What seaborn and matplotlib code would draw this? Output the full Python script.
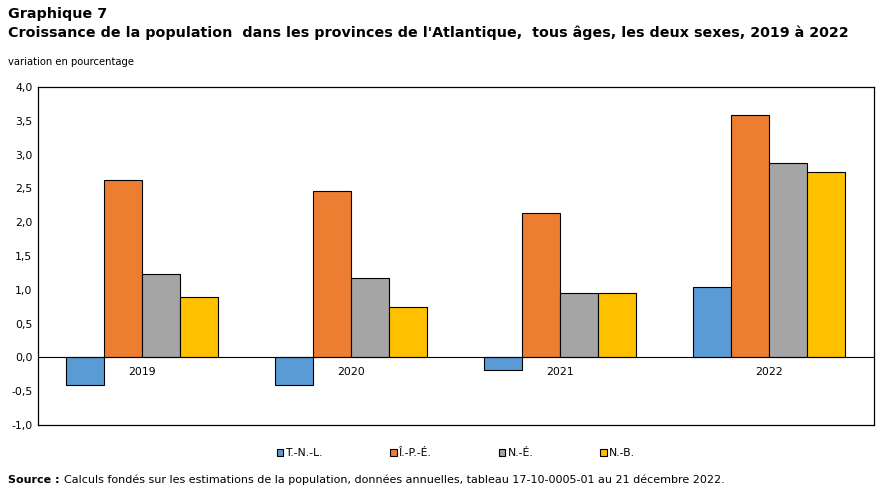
import matplotlib
matplotlib.use("Agg")
import matplotlib.pyplot as plt
import pandas as pd
import seaborn as sns

years = ["2019", "2020", "2021", "2022"]
provinces = ["T.-N.-L.", "Î.-P.-É.", "N.-É.", "N.-B."]
tnl = [-0.41, -0.40, -0.18, 1.05]
ipe = [2.62, 2.47, 2.13, 3.59]
ne = [1.23, 1.18, 0.96, 2.88]
nb = [0.89, 0.75, 0.95, 2.74]
yticks = [-1.0, -0.5, 0.0, 0.5, 1.0, 1.5, 2.0, 2.5, 3.0, 3.5, 4.0]
colors = ["#5B9BD5", "#ED7D31", "#A5A5A5", "#FFC000"]

rows = []
for prov, vals in zip(provinces, [tnl, ipe, ne, nb]):
    for yr, v in zip(years, vals):
        rows.append({"annee": yr, "province": prov, "valeur": v})
df = pd.DataFrame(rows)

sns.set_style("white")
plt.rcParams["font.family"] = ["DejaVu Sans"]
plt.rcParams["text.color"] = "black"
plt.rcParams["ytick.color"] = "black"

fig = plt.figure(figsize=(8.89, 4.92), dpi=100)
ax = fig.add_axes([0.0427, 0.136, 0.9403, 0.687])

sns.barplot(data=df, x="annee", y="valeur", hue="province", order=years,
            hue_order=provinces, palette=colors, width=0.727, gap=0,
            edgecolor="black", linewidth=0.8, saturation=1, ax=ax)

ax.set_ylim(-1.0, 4.0)
ax.set_xlim(-0.5, 3.5)
ax.set_yticks(yticks)
ax.set_yticklabels([f"{t:.1f}".replace(".", ",") for t in yticks], fontsize=7.8)
ax.tick_params(axis="y", length=0, pad=4, colors="black")
ax.set_xticks([])
ax.set_xlabel("")
ax.set_ylabel("")
ax.axhline(0, color="black", linewidth=0.8)
for s in ax.spines.values():
    s.set_color("black")
    s.set_linewidth(0.9)

for i, yr in enumerate(years):
    ax.annotate(yr, xy=(i, 0), xytext=(0, -7), textcoords="offset points",
                ha="center", va="top", fontsize=7.8)

handles, labels = ax.get_legend_handles_labels()
ax.legend(handles, labels, loc="center", bbox_to_anchor=(0.5, -0.083),
          ncol=4, frameon=False, fontsize=7.8, handlelength=0.6,
          handleheight=0.6, handletextpad=0.2, columnspacing=6.2)

fig.text(0.009, 0.972, "Graphique 7", fontsize=10.3, fontweight="bold", va="center")
fig.text(0.009, 0.933, "Croissance de la population  dans les provinces de l'Atlantique,  tous âges, les deux sexes, 2019 à 2022",
         fontsize=10.3, fontweight="bold", va="center")
fig.text(0.009, 0.874, "variation en pourcentage", fontsize=7.2, va="center")
fig.text(0.009, 0.024, "Source :", fontsize=8, fontweight="bold", va="center")
fig.text(0.072, 0.024, "Calculs fondés sur les estimations de la population, données annuelles, tableau 17-10-0005-01 au 21 décembre 2022.",
         fontsize=8, va="center")

fig.savefig("out.png", dpi=100)
